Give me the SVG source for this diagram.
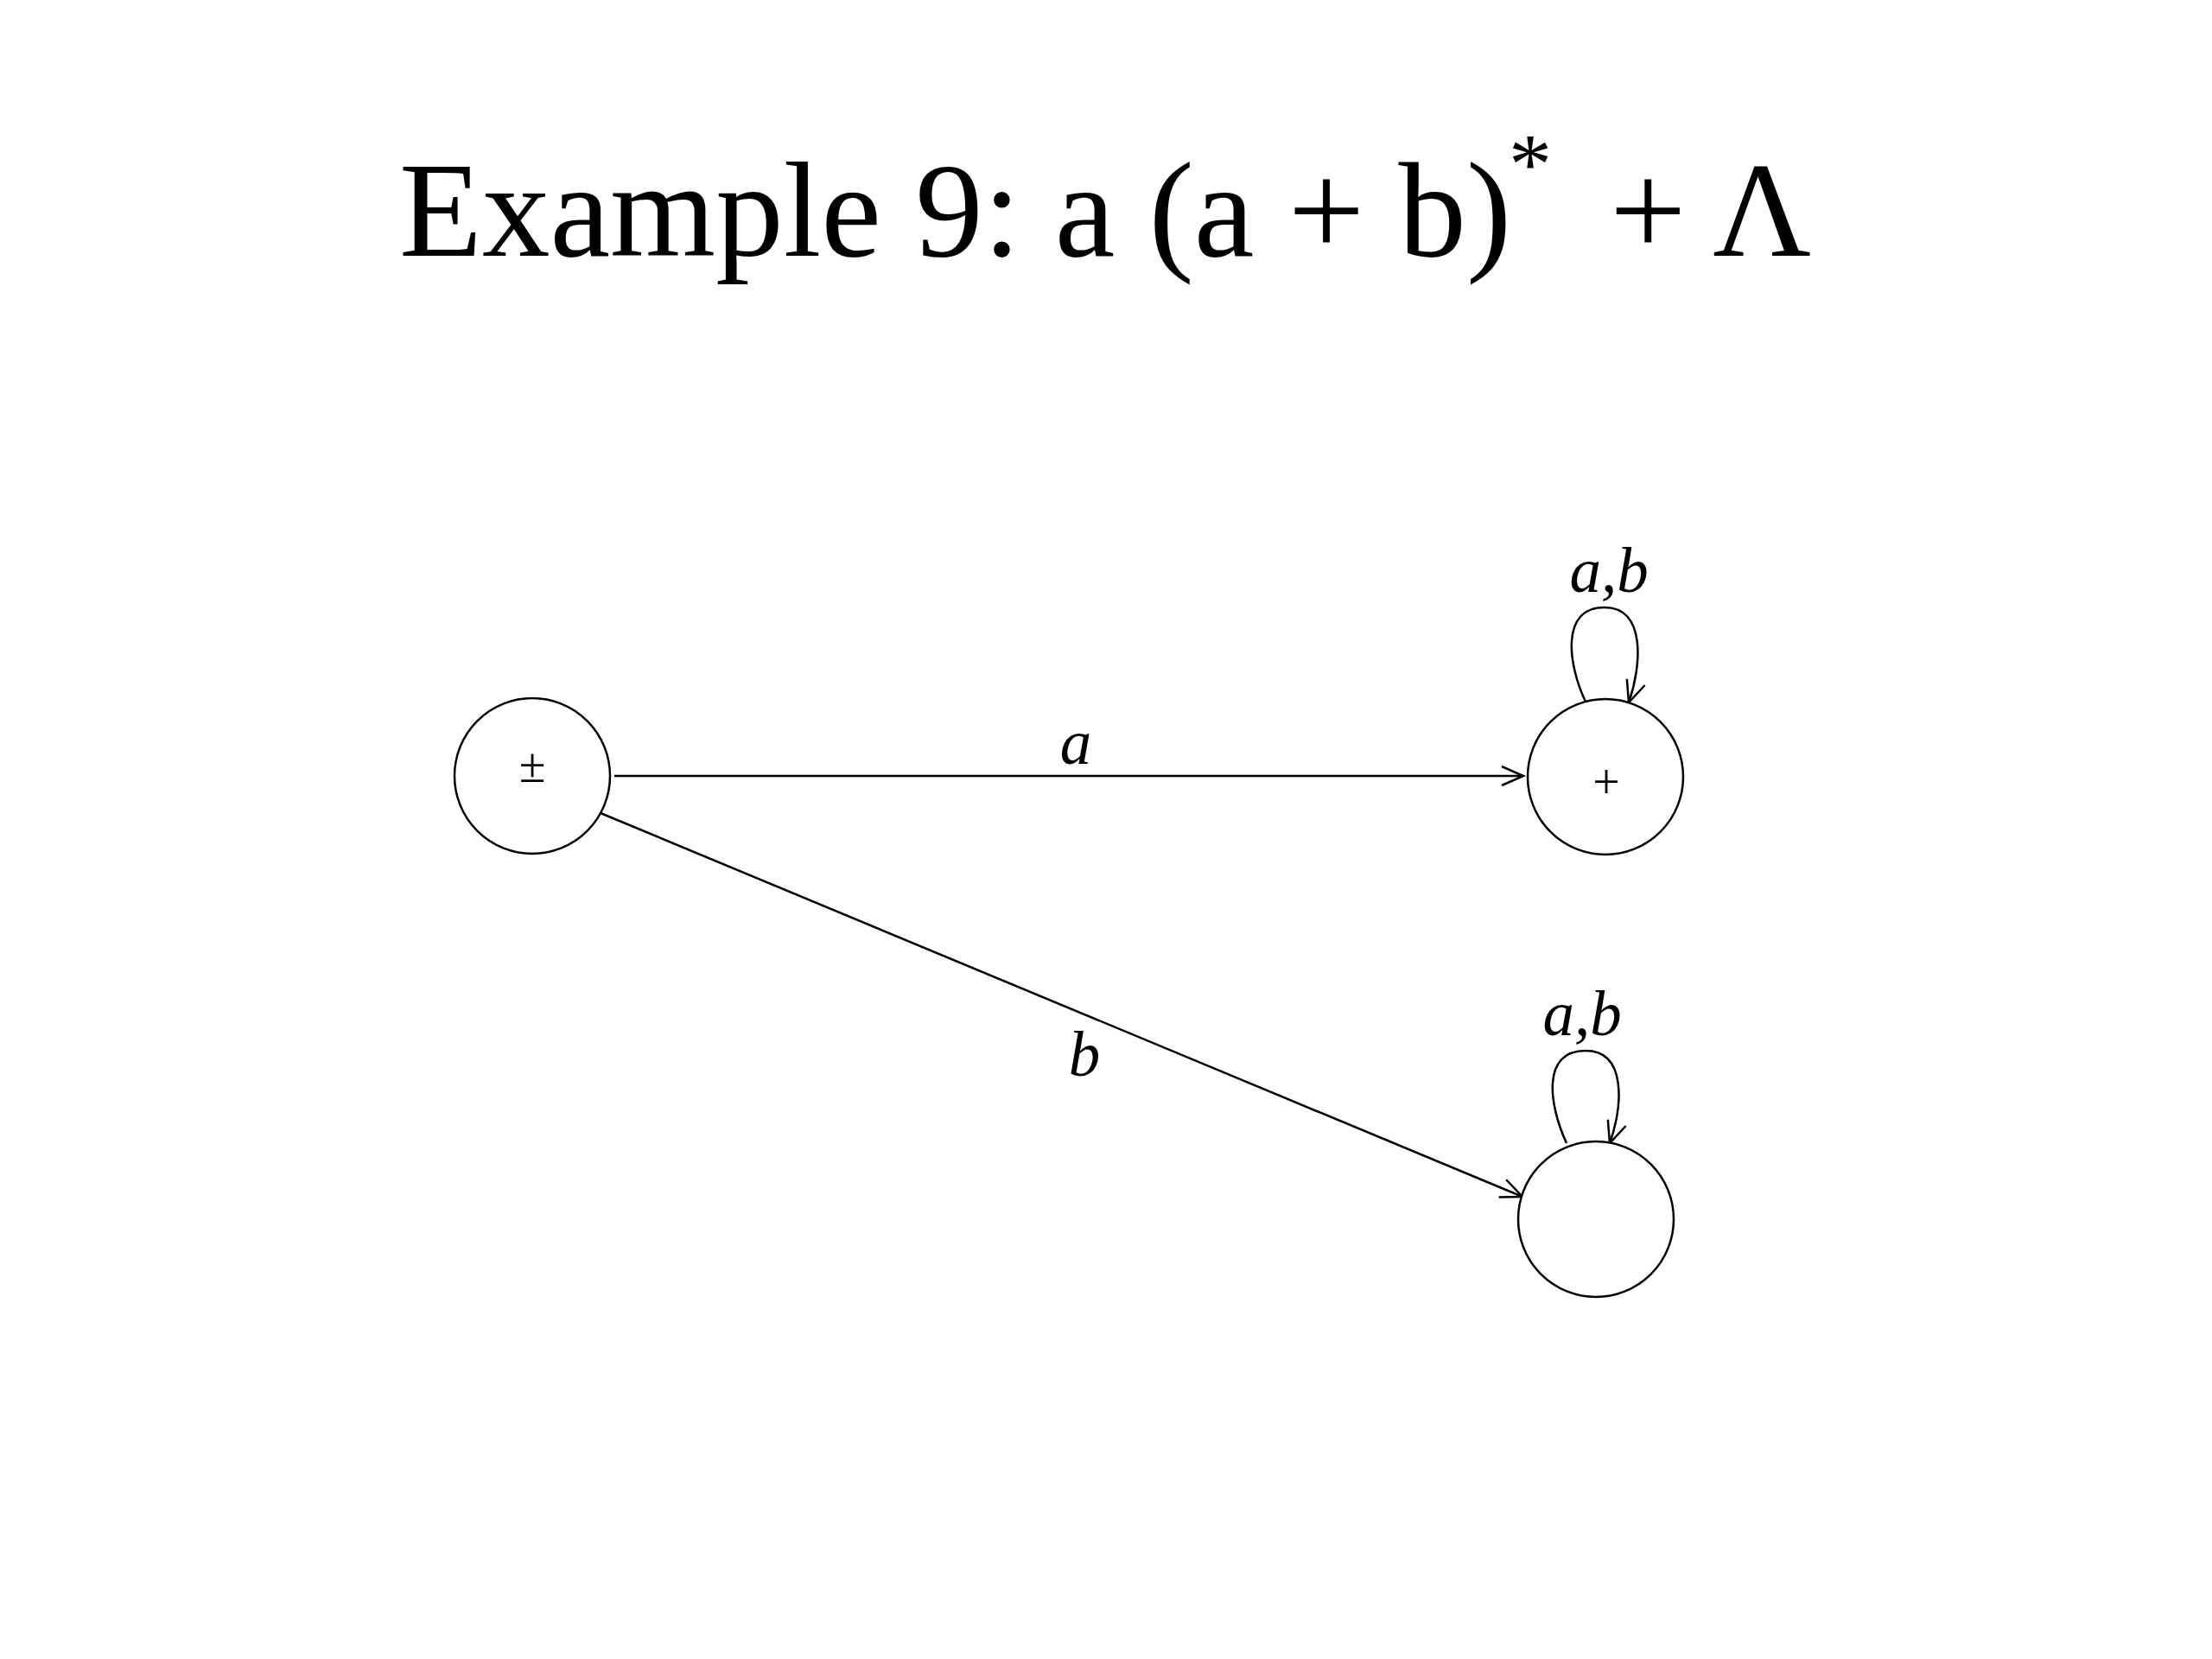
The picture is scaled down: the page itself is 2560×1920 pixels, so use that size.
<svg xmlns="http://www.w3.org/2000/svg" width="2560" height="1920" viewBox="0 0 2560 1920">
<style>
.node{fill:#fff;stroke:#000;stroke-width:2.5}
.edge{fill:none;stroke:#000;stroke-width:2.5}
.title{font-family:"Liberation Serif","Times New Roman",serif;font-size:157px;fill:#000}
.sup{font-family:"Liberation Serif","Times New Roman",serif;font-size:100px;fill:#000}
.lbl{font-family:"Liberation Serif","Times New Roman",serif;font-style:italic;font-size:73px;fill:#000;text-anchor:middle}
.mark{font-family:"Liberation Serif","Times New Roman",serif;font-size:56px;fill:#000;text-anchor:middle}
</style>
<defs>
<marker id="arr" markerUnits="userSpaceOnUse" markerWidth="40" markerHeight="40" viewBox="-30 -20 40 40" refX="0" refY="0" orient="auto">
<path d="M-25,-11 L0,0 L-25,11" fill="none" stroke="#000" stroke-width="2.5"/>
</marker>
</defs>
<rect width="2560" height="1920" fill="#fff"/>
<g id="title">
<text class="title" x="462" y="296">Example 9: a (a + b)</text>
<text class="sup" x="1746" y="223">*</text>
<text class="title" x="1863" y="296">+ Λ</text>
</g>
<g id="connectors">
<line class="edge" x1="711" y1="898" x2="1763" y2="898" marker-end="url(#arr)"/>
<line class="edge" x1="695" y1="941" x2="1762" y2="1385" marker-end="url(#arr)"/>
<path class="edge" d="M1835,812 C1815,770 1805,703 1857,703 C1905,703 1900,770 1885,813" marker-end="url(#arr)"/>
<path class="edge" d="M1813,1323 C1793,1280 1783,1216 1835,1216 C1883,1216 1878,1280 1863,1323" marker-end="url(#arr)"/>
<text class="lbl" x="1245" y="884">a</text>
<text class="lbl" x="1255" y="1245">b</text>
<text class="lbl" x="1862" y="685">a,b</text>
<text class="lbl" x="1831" y="1198">a,b</text>
</g>
<g id="q0">
<circle class="node" cx="616" cy="898" r="90"/>
<text class="mark" x="616" y="905">±</text>
</g>
<g id="q1">
<circle class="node" cx="1858" cy="899" r="90"/>
<text class="mark" x="1859" y="924">+</text>
</g>
<g id="q2">
<circle class="node" cx="1847" cy="1411" r="90"/>
</g>
</svg>
